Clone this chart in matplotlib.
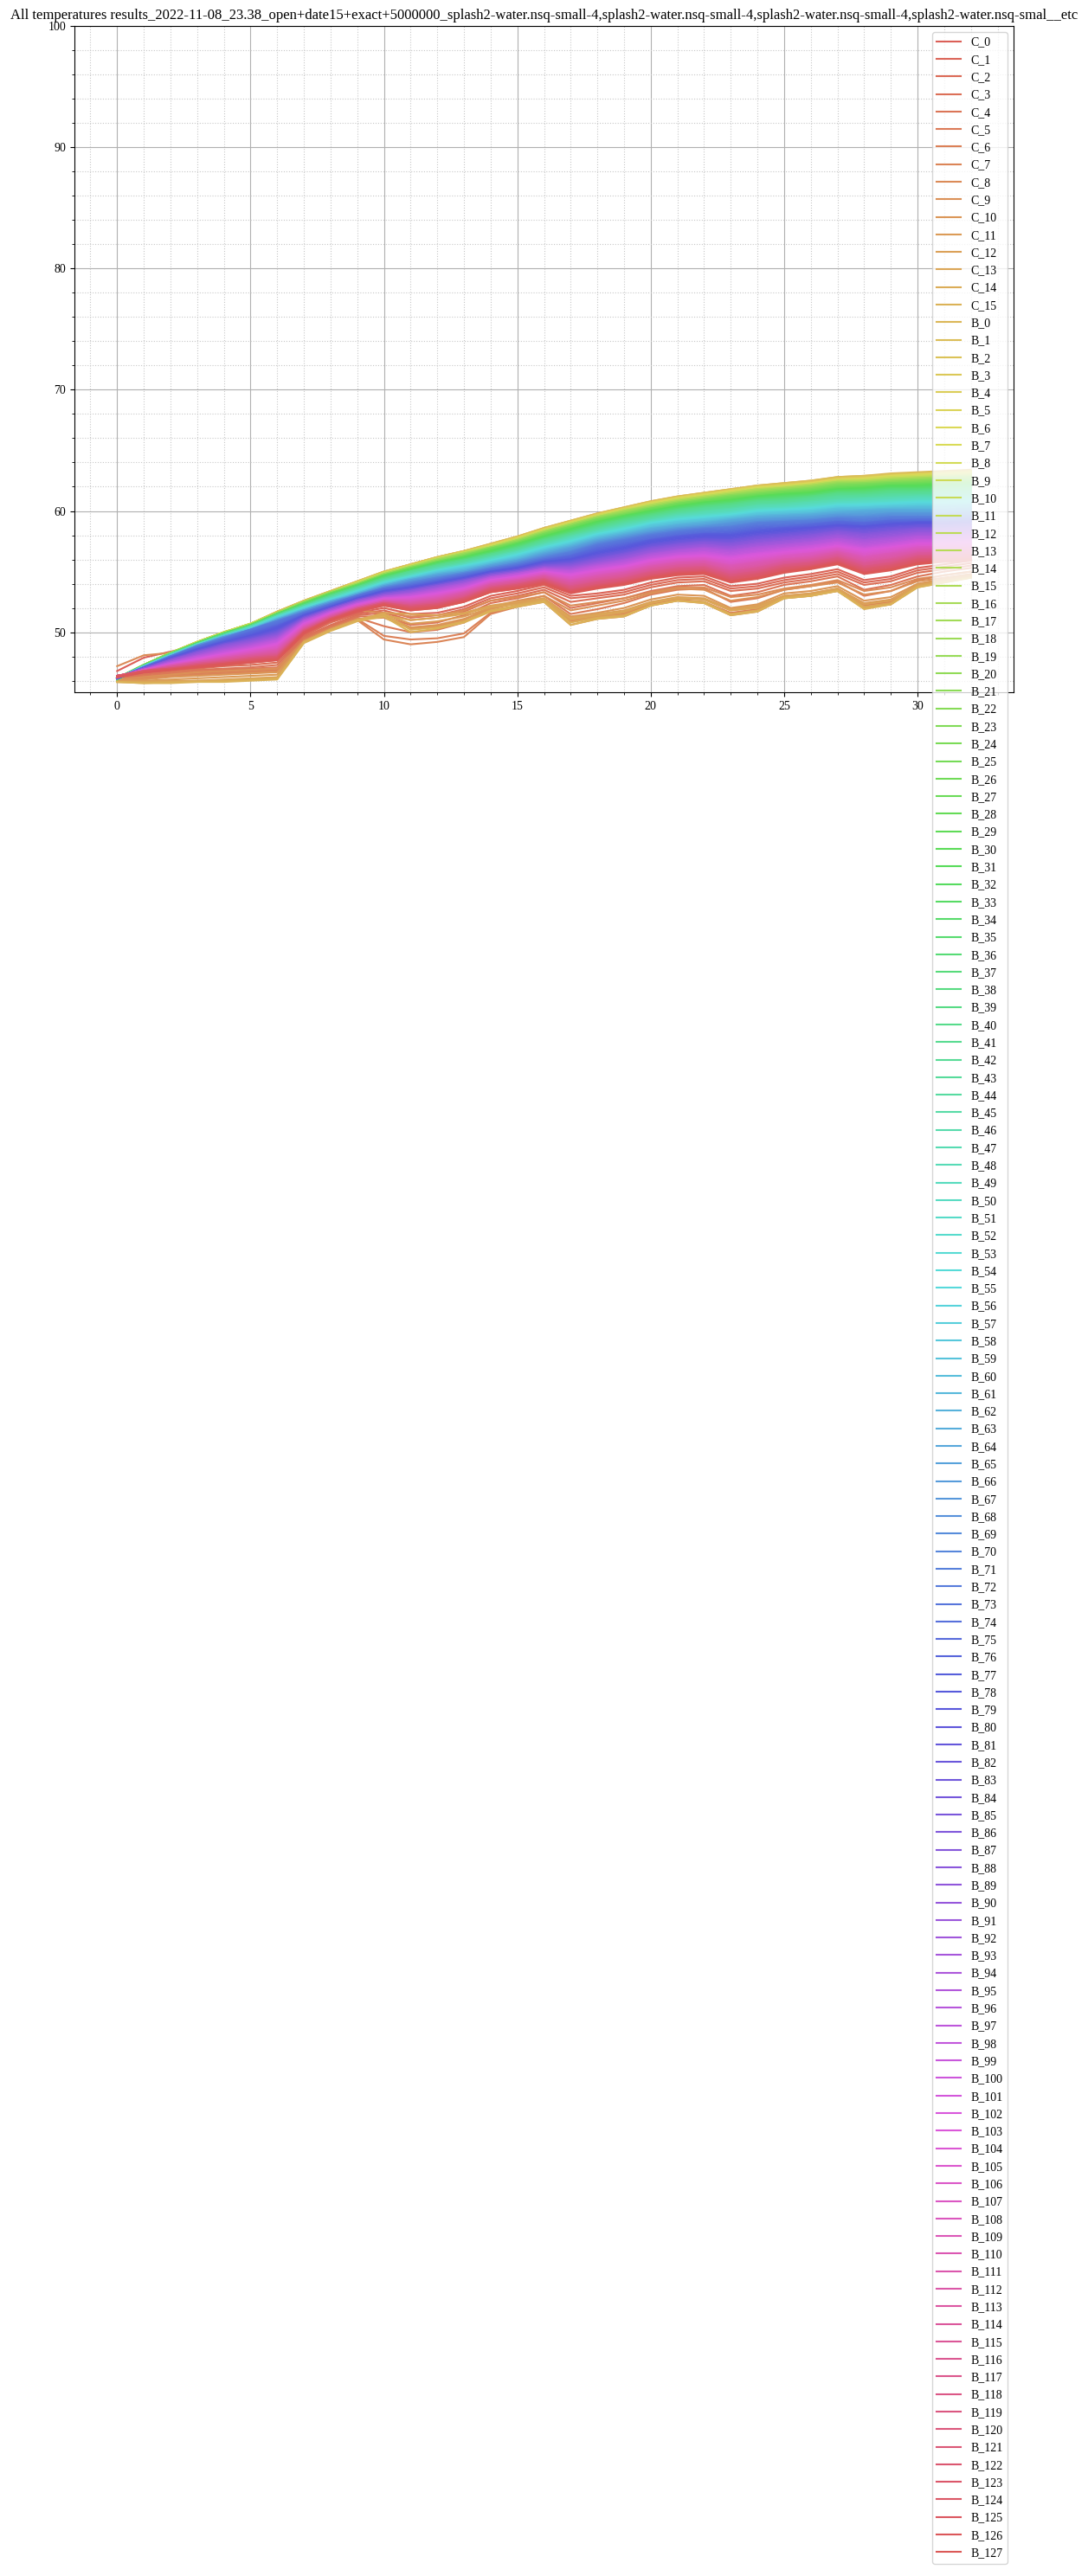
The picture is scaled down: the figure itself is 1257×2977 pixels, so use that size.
import matplotlib
matplotlib.use('Agg')
import matplotlib.pyplot as plt
import seaborn as sns

plt.rcParams['font.family'] = ['Liberation Serif', 'DejaVu Serif']

titulo = 'All temperatures results_2022-11-08_23.38_open+date15+exact+5000000_splash2-water.nsq-small-4,splash2-water.nsq-small-4,splash2-water.nsq-small-4,splash2-water.nsq-smal__etc'

passos = list(range(33))

# temperaturas dos cores (C_0..C_15)
c_temps = [
    [46.8,47.9,48.4,48.9,49.2,49.4,50.5,51.3,52.0,52.6,52.9,52.6,52.8,53.3,54.0,54.4,54.9,54.0,54.3,54.6,55.1,55.5,55.6,54.9,55.1,55.6,55.9,56.3,55.4,55.7,56.4,56.7,57.0],
    [46.4,46.9,47.1,47.3,47.5,47.7,47.9,49.8,50.9,51.6,52.0,51.5,51.6,52.1,53.0,53.4,53.9,53.0,53.2,53.5,54.1,54.5,54.6,53.8,54.0,54.5,54.8,55.2,54.3,54.6,55.3,55.6,55.9],
    [46.3,46.7,46.9,47.1,47.3,47.5,47.7,49.7,50.8,51.5,51.8,51.2,51.4,51.9,52.8,53.2,53.7,52.8,53.0,53.3,53.9,54.3,54.4,53.6,53.8,54.3,54.6,55.0,54.1,54.4,55.1,55.4,55.7],
    [46.2,46.6,46.8,47.0,47.2,47.3,47.5,49.6,50.6,51.4,51.6,51.0,51.2,51.7,52.6,53.0,53.5,52.5,52.8,53.1,53.7,54.1,54.2,53.4,53.6,54.1,54.4,54.8,53.9,54.2,54.9,55.2,55.5],
    [46.1,46.5,46.7,46.9,47.0,47.1,47.3,49.5,50.5,51.3,51.3,50.6,50.8,51.4,52.4,52.8,53.3,52.0,52.4,52.8,53.4,53.8,53.9,53.0,53.3,53.9,54.2,54.6,53.5,53.9,54.6,55.0,55.3],
    [46.1,46.4,46.6,46.8,46.9,47.0,47.1,49.4,50.4,51.2,50.5,50.0,50.2,50.8,52.0,52.5,53.0,51.5,51.9,52.4,53.1,53.5,53.6,52.5,52.8,53.5,53.8,54.2,53.0,53.4,54.3,54.7,55.0],
    [46.0,46.3,46.5,46.6,46.7,46.8,46.9,49.3,50.3,51.1,49.7,49.4,49.5,49.9,51.6,52.2,52.6,50.9,51.2,51.5,52.3,52.7,52.5,51.6,51.9,52.9,53.1,53.5,52.2,52.5,53.9,54.3,54.7],
    [46.0,46.2,46.4,46.5,46.6,46.7,46.8,49.2,50.2,51.0,49.4,49.0,49.2,49.6,51.5,52.1,52.5,50.6,51.1,51.3,52.2,52.6,52.4,51.4,51.7,52.8,53.0,53.4,52.0,52.3,53.8,54.2,54.6],
    [47.2,48.1,48.3,48.5,48.8,49.1,49.9,50.8,51.4,51.8,51.6,51.3,51.4,51.8,52.6,52.9,53.3,52.2,52.5,52.8,53.3,53.7,53.7,52.9,53.1,53.6,53.9,54.3,53.4,53.7,54.4,54.7,55.0],
    [46.1,46.3,46.5,46.7,46.8,46.9,47.0,49.3,50.3,51.1,51.2,50.3,50.5,51.0,52.1,52.6,53.0,51.8,52.2,52.6,53.2,53.6,53.5,52.6,52.9,53.5,53.8,54.1,53.1,53.4,54.2,54.5,54.8],
    [46.0,46.1,46.3,46.4,46.5,46.6,46.7,49.2,50.2,51.0,51.4,50.4,50.6,51.1,51.9,52.4,52.8,51.3,51.6,52.0,52.7,53.1,53.0,52.0,52.3,53.2,53.4,53.8,52.6,52.9,54.0,54.4,54.7],
    [46.0,46.0,46.1,46.2,46.3,46.4,46.5,49.2,50.2,51.0,51.5,50.7,50.9,51.3,52.0,52.4,52.7,51.0,51.3,51.6,52.4,52.8,52.7,51.8,52.1,53.0,53.2,53.6,52.4,52.7,53.9,54.3,54.6],
    [45.9,45.9,46.0,46.0,46.1,46.2,46.3,49.2,50.2,51.0,51.6,51.5,51.4,51.6,52.2,52.5,52.8,51.2,51.5,51.8,52.5,52.9,52.8,51.9,52.2,53.0,53.2,53.6,52.3,52.6,53.9,54.3,54.6],
    [45.9,45.9,45.9,46.0,46.0,46.1,46.2,49.2,50.2,51.0,51.4,51.0,51.2,51.5,52.1,52.3,52.7,51.1,51.4,51.7,52.4,52.8,52.7,51.8,52.0,52.9,53.1,53.5,52.1,52.4,53.8,54.2,54.5],
    [45.9,45.8,45.9,45.9,46.0,46.1,46.2,49.2,50.2,51.0,51.5,50.2,50.4,50.9,51.8,52.2,52.6,50.8,51.2,51.4,52.2,52.6,52.5,51.5,51.8,52.8,53.0,53.4,52.0,52.3,53.7,54.1,54.5],
    [45.9,45.8,45.8,45.9,45.9,46.0,46.1,49.1,50.1,50.9,51.3,50.0,50.3,50.8,51.7,52.1,52.5,50.6,51.1,51.3,52.2,52.6,52.4,51.4,51.7,52.8,53.0,53.4,51.9,52.3,53.7,54.1,54.5],
]

# bancos B_0..B_15
b_amarelo = [
    [46.2,47.3,48.3,49.2,50.0,50.7,51.7,52.6,53.4,54.2,55.0,55.6,56.2,56.7,57.3,57.9,58.6,59.2,59.8,60.3,60.8,61.2,61.5,61.8,62.1,62.3,62.5,62.8,62.9,63.1,63.2,63.3,63.4],
    [46.2,47.3,48.3,49.2,50.0,50.7,51.7,52.6,53.4,54.2,55.0,55.6,56.2,56.7,57.3,57.9,58.6,59.2,59.8,60.3,60.8,61.2,61.5,61.8,62.1,62.3,62.5,62.8,62.9,63.0,63.1,63.2,63.3],
    [46.2,47.3,48.3,49.2,50.0,50.7,51.7,52.6,53.4,54.2,55.0,55.6,56.2,56.7,57.2,57.8,58.5,59.1,59.7,60.2,60.7,61.1,61.4,61.7,62.0,62.2,62.4,62.7,62.8,63.0,63.1,63.2,63.3],
    [46.2,47.3,48.3,49.2,50.0,50.7,51.6,52.5,53.3,54.1,54.9,55.5,56.1,56.6,57.2,57.8,58.5,59.1,59.7,60.2,60.7,61.1,61.4,61.7,62.0,62.2,62.4,62.7,62.8,63.0,63.1,63.2,63.3],
    [46.2,47.3,48.3,49.2,50.0,50.7,51.6,52.5,53.3,54.1,54.9,55.5,56.1,56.6,57.2,57.8,58.5,59.1,59.7,60.2,60.7,61.1,61.4,61.7,62.0,62.1,62.3,62.6,62.7,62.9,63.0,63.1,63.2],
    [46.2,47.3,48.3,49.1,49.9,50.6,51.6,52.5,53.3,54.1,54.9,55.5,56.1,56.6,57.2,57.8,58.5,59.1,59.7,60.2,60.7,61.1,61.4,61.7,62.0,62.1,62.3,62.6,62.7,62.9,63.0,63.1,63.2],
    [46.2,47.3,48.3,49.2,50.0,50.7,51.6,52.5,53.3,54.1,54.9,55.5,56.1,56.6,57.1,57.7,58.4,59.0,59.6,60.1,60.6,61.0,61.3,61.6,61.9,62.1,62.3,62.6,62.7,62.9,63.0,63.1,63.2],
    [46.1,47.2,48.3,49.2,50.0,50.7,51.6,52.5,53.3,54.1,54.9,55.5,56.1,56.6,57.1,57.7,58.4,59.0,59.6,60.1,60.6,61.0,61.3,61.6,61.9,62.0,62.2,62.5,62.6,62.8,62.9,63.0,63.2],
    [46.2,47.3,48.3,49.2,50.0,50.7,51.6,52.5,53.3,54.1,54.9,55.5,56.1,56.6,57.1,57.7,58.4,59.0,59.6,60.1,60.6,61.0,61.3,61.6,61.9,62.0,62.2,62.5,62.6,62.8,62.9,63.0,63.1],
    [46.2,47.3,48.3,49.2,50.0,50.7,51.6,52.5,53.3,54.1,54.9,55.5,56.1,56.6,57.1,57.7,58.4,59.0,59.6,60.1,60.5,60.9,61.2,61.5,61.8,62.0,62.2,62.5,62.6,62.8,62.9,63.0,63.1],
    [46.2,47.3,48.3,49.2,50.0,50.7,51.6,52.5,53.3,54.1,54.9,55.5,56.1,56.6,57.1,57.7,58.4,59.0,59.6,60.1,60.5,60.9,61.2,61.5,61.8,62.0,62.2,62.5,62.5,62.7,62.8,62.9,63.0],
    [46.2,47.3,48.3,49.2,50.0,50.7,51.6,52.5,53.3,54.0,54.8,55.4,56.0,56.5,57.0,57.6,58.3,58.9,59.5,60.0,60.5,60.9,61.2,61.5,61.8,62.0,62.2,62.5,62.5,62.7,62.8,62.9,63.0],
    [46.2,47.3,48.3,49.1,49.9,50.6,51.6,52.5,53.3,54.0,54.8,55.4,56.0,56.5,57.0,57.6,58.3,58.9,59.5,60.0,60.5,60.9,61.2,61.5,61.8,61.9,62.1,62.4,62.5,62.7,62.8,62.9,63.0],
    [46.2,47.3,48.3,49.1,49.9,50.6,51.6,52.5,53.3,54.0,54.8,55.4,56.0,56.5,57.0,57.6,58.3,58.9,59.5,60.0,60.5,60.9,61.2,61.5,61.8,61.9,62.1,62.4,62.5,62.6,62.7,62.8,62.9],
    [46.1,47.2,48.3,49.1,49.9,50.6,51.6,52.5,53.3,54.0,54.8,55.4,56.0,56.5,57.0,57.6,58.3,58.9,59.5,60.0,60.4,60.8,61.1,61.4,61.7,61.9,62.1,62.4,62.4,62.6,62.7,62.8,62.9],
    [46.2,47.2,48.2,49.0,49.9,50.6,51.6,52.5,53.3,54.0,54.8,55.4,55.9,56.4,56.9,57.5,58.3,58.9,59.5,60.0,60.4,60.8,61.1,61.4,61.7,61.9,62.1,62.4,62.4,62.6,62.7,62.8,62.9],
]

# B_16..B_40
b_verde = [
    [46.2,47.3,48.3,49.1,49.9,50.6,51.6,52.5,53.3,54.0,54.8,55.4,56.0,56.5,57.0,57.6,58.3,58.9,59.5,60.0,60.4,60.8,61.1,61.4,61.7,61.9,62.1,62.4,62.4,62.6,62.7,62.8,62.9],
    [46.2,47.3,48.3,49.1,49.9,50.6,51.6,52.5,53.3,54.0,54.8,55.4,56.0,56.5,57.0,57.6,58.3,58.9,59.5,59.9,60.4,60.8,61.1,61.4,61.6,61.8,62.0,62.3,62.4,62.5,62.6,62.7,62.8],
    [46.2,47.3,48.3,49.1,49.9,50.6,51.6,52.5,53.3,54.0,54.8,55.4,55.9,56.4,57.0,57.5,58.2,58.8,59.4,59.9,60.3,60.7,61.0,61.3,61.6,61.8,62.0,62.3,62.3,62.5,62.6,62.7,62.8],
    [46.2,47.3,48.3,49.1,49.9,50.6,51.5,52.4,53.2,53.9,54.7,55.3,55.9,56.4,57.0,57.5,58.2,58.8,59.4,59.9,60.3,60.7,61.0,61.3,61.6,61.8,62.0,62.3,62.3,62.5,62.6,62.7,62.8],
    [46.2,47.3,48.2,49.1,49.9,50.6,51.5,52.4,53.2,53.9,54.7,55.3,55.9,56.4,56.9,57.5,58.2,58.8,59.4,59.8,60.3,60.7,61.0,61.3,61.5,61.7,61.9,62.2,62.3,62.4,62.5,62.6,62.7],
    [46.1,47.2,48.2,49.1,49.9,50.6,51.5,52.4,53.2,53.9,54.7,55.3,55.9,56.4,56.9,57.5,58.2,58.8,59.4,59.8,60.3,60.7,61.0,61.3,61.5,61.7,61.9,62.2,62.3,62.4,62.5,62.6,62.7],
    [46.2,47.3,48.2,49.1,49.9,50.6,51.5,52.4,53.2,53.9,54.7,55.3,55.8,56.3,56.9,57.4,58.1,58.7,59.3,59.8,60.2,60.6,60.9,61.2,61.5,61.7,61.9,62.2,62.2,62.4,62.5,62.6,62.7],
    [46.2,47.3,48.2,49.0,49.8,50.6,51.5,52.4,53.2,53.9,54.7,55.3,55.8,56.3,56.9,57.4,58.1,58.7,59.3,59.7,60.2,60.6,60.9,61.2,61.4,61.6,61.8,62.1,62.2,62.3,62.4,62.5,62.6],
    [46.2,47.3,48.2,49.1,49.9,50.6,51.5,52.4,53.2,53.9,54.7,55.3,55.8,56.3,56.9,57.4,58.1,58.7,59.3,59.7,60.2,60.6,60.9,61.2,61.4,61.6,61.8,62.1,62.2,62.3,62.4,62.5,62.6],
    [46.2,47.3,48.2,49.1,49.9,50.6,51.5,52.4,53.2,53.9,54.7,55.3,55.8,56.3,56.9,57.4,58.1,58.7,59.3,59.7,60.2,60.6,60.9,61.1,61.4,61.6,61.7,62.0,62.1,62.3,62.3,62.4,62.5],
    [46.2,47.3,48.2,49.1,49.9,50.6,51.5,52.4,53.2,53.9,54.7,55.2,55.8,56.2,56.8,57.3,58.0,58.6,59.2,59.6,60.1,60.5,60.8,61.1,61.3,61.5,61.7,62.0,62.1,62.2,62.3,62.4,62.5],
    [46.2,47.3,48.2,49.1,49.9,50.6,51.5,52.4,53.2,53.9,54.7,55.2,55.8,56.2,56.8,57.3,58.0,58.6,59.2,59.6,60.1,60.5,60.8,61.0,61.3,61.5,61.6,61.9,62.0,62.2,62.2,62.3,62.4],
    [46.2,47.2,48.2,49.1,49.9,50.5,51.5,52.3,53.1,53.8,54.6,55.2,55.7,56.2,56.7,57.3,57.9,58.5,59.1,59.6,60.0,60.4,60.7,61.0,61.2,61.4,61.6,61.9,62.0,62.1,62.2,62.3,62.4],
    [46.2,47.2,48.2,49.1,49.9,50.5,51.5,52.3,53.1,53.8,54.6,55.2,55.7,56.2,56.7,57.3,57.9,58.5,59.1,59.6,60.0,60.4,60.7,60.9,61.2,61.4,61.5,61.8,61.9,62.1,62.1,62.2,62.3],
    [46.2,47.2,48.2,49.1,49.9,50.5,51.5,52.3,53.1,53.8,54.6,55.1,55.7,56.1,56.7,57.2,57.9,58.5,59.1,59.5,60.0,60.4,60.7,60.9,61.2,61.4,61.5,61.8,61.9,62.1,62.1,62.2,62.3],
    [46.1,47.2,48.2,49.1,49.9,50.5,51.5,52.3,53.1,53.8,54.6,55.1,55.7,56.1,56.6,57.2,57.8,58.4,59.0,59.5,59.9,60.3,60.6,60.8,61.1,61.3,61.4,61.7,61.8,62.0,62.0,62.1,62.2],
    [46.2,47.2,48.2,49.1,49.9,50.5,51.5,52.3,53.1,53.8,54.6,55.1,55.7,56.1,56.6,57.2,57.8,58.4,59.0,59.5,59.9,60.3,60.6,60.8,61.1,61.3,61.4,61.7,61.8,62.0,62.0,62.1,62.2],
    [46.2,47.2,48.2,49.1,49.9,50.5,51.5,52.3,53.1,53.8,54.6,55.1,55.7,56.1,56.6,57.2,57.8,58.4,59.0,59.5,59.9,60.3,60.6,60.8,61.1,61.2,61.4,61.7,61.7,61.9,61.9,62.0,62.1],
    [46.2,47.2,48.2,49.1,49.9,50.5,51.5,52.3,53.1,53.8,54.5,55.1,55.6,56.0,56.5,57.1,57.7,58.3,58.9,59.4,59.8,60.2,60.5,60.7,61.0,61.2,61.3,61.6,61.7,61.9,61.9,62.0,62.1],
    [46.2,47.2,48.2,49.1,49.9,50.5,51.5,52.3,53.1,53.8,54.5,55.1,55.6,56.0,56.5,57.1,57.7,58.3,58.9,59.4,59.8,60.2,60.5,60.7,61.0,61.1,61.3,61.6,61.6,61.8,61.8,61.9,62.0],
    [46.2,47.2,48.2,49.0,49.8,50.5,51.4,52.2,53.0,53.7,54.5,55.0,55.6,56.0,56.5,57.0,57.7,58.2,58.8,59.3,59.7,60.1,60.4,60.6,60.9,61.1,61.2,61.5,61.6,61.8,61.8,61.9,62.0],
    [46.2,47.2,48.2,49.0,49.8,50.5,51.4,52.2,53.0,53.7,54.5,55.0,55.6,56.0,56.5,57.0,57.7,58.2,58.8,59.3,59.7,60.1,60.4,60.6,60.9,61.0,61.2,61.5,61.5,61.7,61.7,61.8,61.9],
    [46.2,47.2,48.2,49.0,49.8,50.5,51.4,52.2,53.0,53.7,54.4,55.0,55.5,55.9,56.4,57.0,57.6,58.2,58.8,59.3,59.7,60.1,60.4,60.6,60.9,61.0,61.2,61.5,61.5,61.7,61.7,61.8,61.9],
    [46.2,47.1,48.2,49.0,49.8,50.5,51.4,52.2,53.0,53.7,54.4,55.0,55.5,55.9,56.4,56.9,57.6,58.1,58.7,59.2,59.6,60.0,60.3,60.5,60.8,60.9,61.1,61.4,61.4,61.6,61.6,61.7,61.8],
    [46.2,47.2,48.2,49.0,49.8,50.5,51.4,52.2,53.0,53.7,54.4,55.0,55.5,55.9,56.4,56.9,57.6,58.1,58.7,59.2,59.6,60.0,60.3,60.5,60.8,60.9,61.1,61.4,61.4,61.6,61.6,61.7,61.8],
]

# B_41..B_60
b_ciano = [
    [46.2,47.2,48.2,49.0,49.8,50.5,51.4,52.2,53.0,53.7,54.4,55.0,55.5,55.9,56.4,56.9,57.5,58.1,58.6,59.1,59.5,59.9,60.2,60.4,60.7,60.8,61.0,61.3,61.3,61.5,61.5,61.6,61.7],
    [46.2,47.2,48.2,49.0,49.8,50.5,51.4,52.2,52.9,53.6,54.3,54.9,55.4,55.8,56.3,56.8,57.5,58.0,58.6,59.1,59.5,59.9,60.2,60.4,60.7,60.8,61.0,61.2,61.3,61.4,61.5,61.5,61.6],
    [46.2,47.2,48.2,49.0,49.8,50.5,51.4,52.2,52.9,53.6,54.3,54.9,55.4,55.8,56.3,56.8,57.4,58.0,58.5,59.0,59.4,59.8,60.1,60.3,60.6,60.7,60.9,61.2,61.2,61.4,61.4,61.5,61.6],
    [46.2,47.2,48.1,49.0,49.7,50.4,51.3,52.1,52.9,53.6,54.3,54.8,55.3,55.7,56.2,56.7,57.4,57.9,58.5,59.0,59.4,59.8,60.0,60.2,60.5,60.6,60.8,61.1,61.1,61.3,61.3,61.4,61.5],
    [46.2,47.2,48.1,49.0,49.7,50.4,51.3,52.1,52.9,53.6,54.3,54.8,55.3,55.7,56.2,56.7,57.3,57.9,58.4,58.9,59.3,59.7,60.0,60.2,60.5,60.6,60.8,61.0,61.1,61.2,61.3,61.3,61.4],
    [46.2,47.2,48.1,49.0,49.7,50.4,51.3,52.1,52.8,53.5,54.2,54.8,55.3,55.7,56.2,56.7,57.3,57.9,58.4,58.9,59.3,59.7,59.9,60.1,60.4,60.5,60.7,60.9,61.0,61.1,61.2,61.2,61.3],
    [46.2,47.2,48.1,49.0,49.7,50.4,51.3,52.1,52.8,53.5,54.2,54.7,55.2,55.6,56.1,56.6,57.2,57.8,58.3,58.8,59.2,59.6,59.9,60.1,60.4,60.5,60.7,60.9,61.0,61.1,61.2,61.2,61.3],
    [46.2,47.2,48.1,49.0,49.7,50.4,51.3,52.1,52.8,53.5,54.2,54.7,55.2,55.6,56.1,56.6,57.2,57.8,58.3,58.8,59.2,59.6,59.8,60.0,60.3,60.4,60.6,60.8,60.9,61.0,61.1,61.1,61.2],
    [46.2,47.2,48.1,49.0,49.7,50.4,51.3,52.1,52.8,53.5,54.2,54.7,55.2,55.6,56.1,56.6,57.2,57.7,58.3,58.7,59.2,59.5,59.7,59.9,60.2,60.3,60.5,60.7,60.8,60.9,61.0,61.0,61.1],
    [46.2,47.2,48.1,49.0,49.7,50.4,51.3,52.0,52.7,53.4,54.1,54.6,55.1,55.5,56.0,56.5,57.1,57.7,58.2,58.7,59.1,59.5,59.7,59.9,60.2,60.3,60.5,60.7,60.8,60.9,61.0,61.0,61.1],
    [46.2,47.2,48.1,49.0,49.7,50.4,51.3,52.0,52.7,53.4,54.1,54.6,55.1,55.5,56.0,56.5,57.1,57.6,58.2,58.6,59.1,59.4,59.6,59.8,60.1,60.2,60.4,60.6,60.7,60.8,60.9,60.9,61.0],
    [46.2,47.2,48.1,48.9,49.7,50.3,51.2,52.0,52.7,53.4,54.1,54.6,55.1,55.5,55.9,56.4,57.0,57.6,58.1,58.6,59.0,59.4,59.6,59.8,60.1,60.2,60.3,60.6,60.6,60.7,60.8,60.8,60.9],
    [46.2,47.2,48.1,48.9,49.7,50.3,51.2,52.0,52.7,53.4,54.1,54.6,55.1,55.5,55.9,56.4,57.0,57.5,58.1,58.5,59.0,59.3,59.5,59.7,60.0,60.1,60.3,60.5,60.6,60.7,60.8,60.8,60.9],
    [46.2,47.2,48.1,48.9,49.7,50.3,51.2,51.9,52.6,53.3,54.0,54.5,55.0,55.4,55.9,56.4,57.0,57.5,58.1,58.5,59.0,59.3,59.5,59.7,60.0,60.1,60.2,60.5,60.5,60.6,60.7,60.7,60.8],
    [46.2,47.2,48.1,48.9,49.7,50.3,51.2,51.9,52.6,53.3,54.0,54.5,55.0,55.4,55.8,56.3,56.9,57.4,58.0,58.4,58.9,59.2,59.4,59.6,59.9,60.0,60.2,60.4,60.5,60.6,60.7,60.7,60.8],
    [46.2,47.2,48.1,48.9,49.7,50.3,51.2,51.9,52.6,53.3,54.0,54.5,55.0,55.4,55.8,56.3,56.9,57.4,58.0,58.4,58.9,59.2,59.4,59.6,59.9,60.0,60.1,60.4,60.4,60.5,60.6,60.6,60.7],
    [46.2,47.2,48.1,48.9,49.7,50.3,51.2,51.9,52.6,53.3,54.0,54.5,55.0,55.3,55.8,56.2,56.8,57.3,57.9,58.3,58.8,59.1,59.3,59.5,59.8,59.9,60.0,60.3,60.3,60.4,60.5,60.5,60.6],
    [46.2,47.2,48.1,48.9,49.7,50.3,51.1,51.9,52.6,53.2,53.9,54.4,54.9,55.3,55.7,56.2,56.8,57.3,57.9,58.3,58.8,59.1,59.3,59.5,59.8,59.9,60.0,60.2,60.3,60.4,60.4,60.4,60.5],
    [46.2,47.2,48.1,48.9,49.7,50.3,51.1,51.9,52.6,53.2,53.9,54.4,54.9,55.2,55.7,56.1,56.7,57.2,57.8,58.2,58.7,59.0,59.2,59.4,59.7,59.8,59.9,60.2,60.2,60.3,60.4,60.4,60.5],
    [46.2,47.1,48.0,48.9,49.6,50.2,51.1,51.8,52.5,53.2,53.9,54.4,54.8,55.2,55.6,56.1,56.7,57.2,57.8,58.2,58.6,58.9,59.1,59.4,59.6,59.7,59.8,60.1,60.1,60.2,60.3,60.3,60.4],
]

# B_61..B_80
b_azul = [
    [46.2,47.1,48.0,48.9,49.6,50.2,51.1,51.8,52.5,53.2,53.9,54.4,54.8,55.1,55.6,56.0,56.6,57.1,57.7,58.1,58.6,58.9,59.1,59.3,59.6,59.7,59.8,60.0,60.1,60.2,60.2,60.2,60.3],
    [46.2,47.1,48.0,48.9,49.6,50.2,51.0,51.8,52.5,53.1,53.8,54.3,54.8,55.1,55.6,56.0,56.6,57.1,57.7,58.1,58.5,58.8,59.0,59.3,59.5,59.6,59.7,59.9,60.0,60.1,60.1,60.1,60.2],
    [46.2,47.1,48.0,48.9,49.6,50.2,51.0,51.8,52.5,53.1,53.8,54.3,54.7,55.0,55.5,55.9,56.5,57.0,57.6,58.0,58.5,58.8,59.0,59.2,59.5,59.6,59.7,59.9,60.0,60.1,60.1,60.1,60.2],
    [46.2,47.1,48.0,48.9,49.6,50.2,51.0,51.8,52.5,53.1,53.8,54.3,54.7,55.0,55.5,55.9,56.5,57.0,57.6,58.0,58.4,58.7,58.9,59.2,59.4,59.5,59.6,59.8,59.9,60.0,60.0,60.0,60.1],
    [46.2,47.1,48.0,48.9,49.6,50.2,51.0,51.8,52.5,53.1,53.8,54.3,54.7,55.0,55.5,55.9,56.4,56.9,57.5,57.9,58.3,58.6,58.8,59.1,59.3,59.4,59.5,59.7,59.8,59.9,59.9,59.9,60.0],
    [46.2,47.1,48.0,48.9,49.6,50.2,51.0,51.7,52.4,53.1,53.7,54.2,54.6,54.9,55.4,55.8,56.4,56.9,57.5,57.9,58.3,58.6,58.8,59.0,59.3,59.4,59.5,59.7,59.7,59.8,59.8,59.8,59.9],
    [46.2,47.1,48.0,48.9,49.6,50.2,51.0,51.7,52.4,53.1,53.7,54.2,54.6,54.9,55.4,55.8,56.3,56.8,57.4,57.8,58.2,58.5,58.7,59.0,59.2,59.3,59.4,59.6,59.6,59.8,59.8,59.8,59.9],
    [46.2,47.1,48.0,48.8,49.5,50.2,50.9,51.7,52.4,53.0,53.7,54.1,54.5,54.9,55.3,55.7,56.3,56.7,57.4,57.8,58.2,58.5,58.7,58.9,59.1,59.2,59.3,59.5,59.5,59.7,59.7,59.7,59.8],
    [46.2,47.1,48.0,48.8,49.5,50.2,50.9,51.7,52.4,53.0,53.7,54.1,54.5,54.9,55.3,55.7,56.2,56.7,57.3,57.7,58.1,58.4,58.6,58.8,59.1,59.2,59.3,59.5,59.5,59.6,59.6,59.6,59.7],
    [46.2,47.1,48.0,48.8,49.5,50.2,50.9,51.6,52.3,53.0,53.6,54.1,54.5,54.8,55.3,55.7,56.2,56.6,57.3,57.7,58.1,58.4,58.6,58.7,59.0,59.1,59.2,59.4,59.4,59.5,59.5,59.5,59.6],
    [46.2,47.1,48.0,48.8,49.5,50.2,50.9,51.6,52.3,53.0,53.6,54.0,54.4,54.8,55.2,55.6,56.1,56.6,57.2,57.6,58.0,58.3,58.5,58.7,59.0,59.1,59.2,59.4,59.3,59.5,59.5,59.5,59.6],
    [46.2,47.1,48.0,48.8,49.5,50.2,50.9,51.6,52.3,53.0,53.6,54.0,54.4,54.8,55.2,55.6,56.1,56.5,57.2,57.6,58.0,58.3,58.5,58.6,58.9,59.0,59.1,59.3,59.2,59.4,59.4,59.4,59.5],
    [46.2,47.1,48.0,48.8,49.4,50.1,50.8,51.6,52.3,53.0,53.6,53.9,54.3,54.7,55.2,55.5,56.0,56.4,57.1,57.5,57.9,58.2,58.4,58.5,58.8,58.9,59.0,59.2,59.1,59.3,59.3,59.3,59.4],
    [46.2,47.1,47.9,48.7,49.4,50.0,50.7,51.5,52.2,52.9,53.5,53.9,54.3,54.7,55.1,55.5,56.0,56.3,57.0,57.4,57.8,58.1,58.3,58.4,58.7,58.8,58.9,59.1,59.0,59.2,59.3,59.3,59.4],
    [46.2,47.1,47.9,48.7,49.3,50.0,50.6,51.5,52.2,52.9,53.5,53.8,54.2,54.6,55.1,55.4,55.9,56.3,56.9,57.3,57.7,58.0,58.2,58.3,58.6,58.7,58.9,59.1,59.0,59.2,59.2,59.2,59.3],
    [46.2,47.0,47.9,48.6,49.3,49.9,50.5,51.4,52.1,52.8,53.4,53.8,54.2,54.6,55.0,55.4,55.9,56.2,56.8,57.2,57.6,57.9,58.1,58.2,58.5,58.6,58.8,59.0,58.9,59.1,59.1,59.1,59.2],
    [46.2,47.0,47.9,48.6,49.2,49.8,50.5,51.4,52.1,52.8,53.4,53.7,54.1,54.5,55.0,55.3,55.8,56.1,56.7,57.1,57.6,57.9,58.1,58.1,58.4,58.6,58.7,58.9,58.8,59.0,59.1,59.1,59.2],
    [46.2,47.0,47.8,48.6,49.2,49.7,50.4,51.4,52.1,52.8,53.4,53.7,54.1,54.5,55.0,55.3,55.8,56.0,56.6,57.0,57.5,57.8,58.0,58.0,58.3,58.5,58.6,58.8,58.7,58.9,59.0,59.0,59.1],
    [46.2,47.0,47.8,48.5,49.1,49.7,50.3,51.3,52.0,52.7,53.3,53.6,54.0,54.4,54.9,55.2,55.7,56.0,56.5,56.9,57.4,57.7,57.9,57.9,58.2,58.4,58.6,58.8,58.7,58.9,59.0,59.0,59.1],
    [46.2,47.0,47.8,48.5,49.1,49.6,50.2,51.3,52.0,52.7,53.3,53.6,54.0,54.4,54.9,55.2,55.7,55.9,56.4,56.8,57.3,57.6,57.8,57.8,58.1,58.3,58.5,58.7,58.6,58.8,58.9,58.9,59.0],
]

# B_81..B_100
b_roxo = [
    [46.2,47.0,47.8,48.5,49.1,49.6,50.1,51.3,52.0,52.7,53.3,53.6,54.0,54.4,54.9,55.2,55.7,55.8,56.3,56.7,57.2,57.5,57.7,57.7,58.0,58.2,58.4,58.6,58.5,58.7,58.8,58.8,58.9],
    [46.2,47.0,47.8,48.4,49.0,49.5,50.1,51.2,52.0,52.7,53.2,53.5,53.9,54.3,54.8,55.1,55.6,55.8,56.3,56.7,57.2,57.5,57.7,57.6,57.9,58.1,58.3,58.6,58.4,58.6,58.8,58.8,58.9],
    [46.2,47.0,47.8,48.4,49.0,49.5,50.0,51.2,52.0,52.7,53.2,53.5,53.9,54.3,54.8,55.1,55.6,55.7,56.2,56.6,57.1,57.4,57.6,57.6,57.9,58.1,58.3,58.5,58.4,58.6,58.7,58.7,58.8],
    [46.3,47.0,47.7,48.4,49.0,49.4,50.0,51.2,51.9,52.6,53.2,53.5,53.9,54.3,54.8,55.1,55.5,55.7,56.1,56.5,57.0,57.3,57.5,57.5,57.8,58.0,58.2,58.4,58.3,58.5,58.6,58.6,58.7],
    [46.3,47.0,47.7,48.4,49.0,49.4,49.9,51.2,51.9,52.6,53.2,53.5,53.9,54.3,54.8,55.1,55.5,55.6,56.1,56.5,57.0,57.3,57.5,57.4,57.7,57.9,58.1,58.4,58.2,58.4,58.6,58.6,58.7],
    [46.3,47.0,47.7,48.3,48.9,49.4,49.9,51.1,51.9,52.6,53.1,53.4,53.8,54.2,54.7,55.0,55.5,55.6,56.0,56.4,56.9,57.2,57.4,57.3,57.6,57.8,58.0,58.3,58.1,58.3,58.5,58.5,58.6],
    [46.3,47.0,47.7,48.3,48.9,49.3,49.8,51.1,51.9,52.6,53.1,53.4,53.8,54.2,54.7,55.0,55.4,55.5,56.0,56.4,56.9,57.2,57.4,57.3,57.6,57.8,58.0,58.3,58.1,58.3,58.5,58.5,58.6],
    [46.3,47.0,47.7,48.3,48.9,49.3,49.8,51.1,51.9,52.6,53.1,53.4,53.8,54.2,54.7,55.0,55.4,55.5,55.9,56.3,56.8,57.1,57.3,57.2,57.5,57.7,57.9,58.2,58.0,58.2,58.4,58.4,58.5],
    [46.3,47.0,47.7,48.3,48.8,49.2,49.7,51.1,51.9,52.6,53.1,53.4,53.8,54.2,54.7,55.0,55.4,55.4,55.8,56.2,56.7,57.0,57.2,57.1,57.4,57.6,57.8,58.1,57.9,58.1,58.3,58.3,58.4],
    [46.3,47.0,47.6,48.2,48.8,49.2,49.7,51.0,51.8,52.5,53.0,53.3,53.7,54.1,54.6,54.9,55.3,55.4,55.8,56.2,56.7,57.0,57.2,57.0,57.3,57.5,57.7,58.0,57.8,58.0,58.2,58.2,58.3],
    [46.3,47.0,47.6,48.2,48.7,49.1,49.6,51.0,51.8,52.5,53.0,53.3,53.7,54.1,54.6,54.9,55.3,55.3,55.7,56.1,56.6,56.9,57.1,57.0,57.3,57.5,57.7,58.0,57.7,57.9,58.2,58.2,58.3],
    [46.3,46.9,47.6,48.1,48.7,49.1,49.6,51.0,51.8,52.5,53.0,53.2,53.6,54.0,54.6,54.9,55.3,55.3,55.7,56.0,56.5,56.8,57.0,56.9,57.2,57.4,57.6,57.9,57.6,57.8,58.1,58.1,58.2],
    [46.3,46.9,47.6,48.1,48.6,49.0,49.5,51.0,51.8,52.5,53.0,53.2,53.6,54.0,54.6,54.9,55.3,55.2,55.6,56.0,56.5,56.8,57.0,56.8,57.1,57.3,57.5,57.8,57.6,57.8,58.0,58.0,58.1],
    [46.3,46.9,47.5,48.1,48.6,49.0,49.5,50.9,51.7,52.4,52.9,53.2,53.6,54.0,54.5,54.8,55.2,55.2,55.6,55.9,56.4,56.7,56.9,56.7,57.0,57.2,57.4,57.7,57.5,57.7,57.9,57.9,58.0],
    [46.3,46.9,47.5,48.0,48.5,48.9,49.4,50.9,51.7,52.4,52.9,53.1,53.5,53.9,54.5,54.8,55.2,55.1,55.5,55.9,56.4,56.7,56.9,56.7,57.0,57.2,57.4,57.7,57.4,57.6,57.9,57.9,58.0],
    [46.3,46.9,47.5,48.0,48.5,48.9,49.4,50.9,51.7,52.4,52.9,53.1,53.5,53.9,54.5,54.8,55.2,55.1,55.5,55.8,56.3,56.6,56.8,56.6,56.9,57.1,57.3,57.6,57.3,57.5,57.8,57.8,57.9],
    [46.3,46.9,47.5,48.0,48.4,48.8,49.3,50.9,51.7,52.4,52.9,53.1,53.4,53.8,54.5,54.8,55.2,55.0,55.4,55.7,56.2,56.5,56.7,56.5,56.8,57.0,57.2,57.5,57.2,57.4,57.7,57.7,57.8],
    [46.3,46.9,47.4,47.9,48.4,48.8,49.3,50.8,51.6,52.3,52.8,53.0,53.4,53.8,54.4,54.7,55.1,55.0,55.4,55.7,56.2,56.5,56.6,56.4,56.7,56.9,57.1,57.4,57.1,57.3,57.6,57.6,57.7],
    [46.3,46.9,47.4,47.9,48.3,48.7,49.2,50.8,51.6,52.3,52.8,53.0,53.3,53.7,54.4,54.7,55.1,54.9,55.3,55.6,56.1,56.4,56.6,56.3,56.6,56.9,57.1,57.4,57.0,57.3,57.6,57.6,57.7],
    [46.3,46.9,47.4,47.8,48.3,48.7,49.1,50.7,51.6,52.3,52.8,52.9,53.3,53.7,54.3,54.6,55.0,54.8,55.2,55.5,56.0,56.3,56.5,56.2,56.5,56.8,57.0,57.3,56.9,57.2,57.5,57.5,57.6],
]

# B_101..B_127
b_rosa = [
    [46.3,46.9,47.4,47.8,48.2,48.6,49.1,50.7,51.6,52.3,52.8,52.9,53.2,53.6,54.3,54.6,55.0,54.8,55.2,55.5,56.0,56.3,56.4,56.2,56.5,56.7,56.9,57.2,56.9,57.1,57.4,57.4,57.5],
    [46.3,46.9,47.3,47.8,48.2,48.6,49.0,50.7,51.5,52.2,52.7,52.9,53.2,53.6,54.3,54.6,55.0,54.7,55.1,55.4,55.9,56.2,56.3,56.1,56.4,56.6,56.8,57.1,56.8,57.0,57.3,57.3,57.4],
    [46.3,46.9,47.3,47.7,48.1,48.5,49.0,50.6,51.5,52.2,52.7,52.8,53.1,53.5,54.2,54.5,54.9,54.7,55.1,55.4,55.9,56.2,56.3,56.0,56.3,56.6,56.8,57.1,56.7,57.0,57.3,57.3,57.4],
    [46.3,46.9,47.3,47.7,48.1,48.5,48.9,50.6,51.5,52.2,52.7,52.8,53.1,53.5,54.2,54.5,54.9,54.6,55.0,55.3,55.8,56.1,56.2,55.9,56.2,56.5,56.7,57.0,56.6,56.9,57.2,57.2,57.3],
    [46.3,46.9,47.3,47.7,48.1,48.4,48.8,50.6,51.5,52.2,52.7,52.7,53.0,53.5,54.2,54.5,54.9,54.5,54.9,55.2,55.7,56.0,56.1,55.8,56.1,56.4,56.6,56.9,56.5,56.8,57.1,57.1,57.2],
    [46.3,46.9,47.3,47.6,48.0,48.4,48.8,50.5,51.4,52.1,52.6,52.7,53.0,53.4,54.1,54.4,54.8,54.5,54.9,55.2,55.7,56.0,56.1,55.7,56.0,56.3,56.5,56.9,56.4,56.7,57.0,57.1,57.2],
    [46.3,46.9,47.3,47.6,48.0,48.3,48.7,50.5,51.4,52.1,52.6,52.6,52.9,53.4,54.1,54.4,54.8,54.4,54.8,55.1,55.6,55.9,56.0,55.6,55.9,56.3,56.5,56.8,56.3,56.6,57.0,57.0,57.1],
    [46.4,46.8,47.2,47.6,47.9,48.3,48.6,50.4,51.4,52.1,52.6,52.6,52.9,53.3,54.0,54.3,54.7,54.3,54.7,55.0,55.5,55.8,55.9,55.5,55.8,56.2,56.4,56.7,56.2,56.5,56.9,56.9,57.0],
    [46.4,46.8,47.2,47.6,47.9,48.2,48.6,50.4,51.4,52.1,52.6,52.5,52.8,53.3,54.0,54.3,54.7,54.3,54.7,55.0,55.5,55.8,55.9,55.5,55.8,56.1,56.3,56.7,56.2,56.5,56.8,56.9,57.0],
    [46.4,46.8,47.2,47.5,47.9,48.2,48.5,50.4,51.3,52.0,52.5,52.5,52.8,53.3,54.0,54.3,54.7,54.2,54.6,54.9,55.4,55.7,55.8,55.4,55.7,56.0,56.2,56.6,56.1,56.4,56.7,56.8,56.9],
    [46.4,46.8,47.2,47.5,47.8,48.1,48.5,50.3,51.3,52.0,52.5,52.4,52.7,53.2,53.9,54.2,54.6,54.2,54.6,54.9,55.4,55.7,55.8,55.3,55.6,56.0,56.2,56.6,56.0,56.3,56.7,56.8,56.9],
    [46.4,46.8,47.2,47.5,47.8,48.1,48.4,50.3,51.3,52.0,52.5,52.4,52.7,53.2,53.9,54.2,54.6,54.1,54.5,54.8,55.3,55.6,55.7,55.2,55.5,55.9,56.1,56.5,55.9,56.2,56.6,56.7,56.8],
    [46.4,46.8,47.2,47.5,47.8,48.1,48.3,50.3,51.3,52.0,52.5,52.4,52.6,53.1,53.9,54.2,54.6,54.0,54.4,54.7,55.2,55.5,55.6,55.1,55.4,55.8,56.0,56.4,55.8,56.1,56.5,56.6,56.7],
    [46.4,46.8,47.1,47.4,47.7,48.0,48.3,50.2,51.2,52.0,52.5,52.3,52.6,53.1,53.8,54.1,54.5,54.0,54.4,54.7,55.2,55.5,55.6,55.0,55.3,55.8,56.0,56.4,55.7,56.0,56.5,56.6,56.7],
    [46.4,46.8,47.1,47.4,47.7,48.0,48.2,50.2,51.2,52.0,52.5,52.3,52.5,53.0,53.8,54.1,54.5,53.9,54.3,54.6,55.1,55.4,55.5,55.0,55.3,55.7,55.9,56.3,55.7,56.0,56.4,56.5,56.6],
    [46.4,46.8,47.1,47.4,47.6,47.9,48.2,50.2,51.2,51.9,52.4,52.2,52.5,53.0,53.7,54.0,54.4,53.8,54.2,54.5,55.0,55.3,55.4,54.9,55.2,55.6,55.8,56.2,55.6,55.9,56.3,56.4,56.5],
    [46.4,46.8,47.1,47.4,47.6,47.9,48.1,50.2,51.2,51.9,52.4,52.2,52.4,52.9,53.7,54.0,54.4,53.8,54.2,54.5,55.0,55.3,55.4,54.8,55.1,55.6,55.8,56.2,55.5,55.8,56.3,56.4,56.5],
    [46.4,46.8,47.0,47.3,47.6,47.9,48.1,50.1,51.1,51.9,52.4,52.2,52.4,52.9,53.7,54.0,54.4,53.7,54.1,54.4,54.9,55.2,55.3,54.7,55.0,55.5,55.7,56.1,55.4,55.7,56.2,56.3,56.4],
    [46.4,46.8,47.0,47.3,47.5,47.8,48.0,50.1,51.1,51.9,52.4,52.1,52.3,52.8,53.6,53.9,54.3,53.7,54.1,54.4,54.9,55.2,55.3,54.7,55.0,55.5,55.7,56.1,55.4,55.7,56.2,56.3,56.4],
    [46.4,46.8,47.0,47.3,47.5,47.8,48.0,50.1,51.1,51.9,52.4,52.1,52.3,52.8,53.6,53.9,54.3,53.6,54.0,54.3,54.8,55.1,55.2,54.6,54.9,55.4,55.6,56.0,55.3,55.6,56.1,56.2,56.3],
    [46.4,46.8,47.0,47.3,47.5,47.8,48.0,50.1,51.1,51.9,52.4,52.1,52.3,52.8,53.6,53.9,54.3,53.5,53.9,54.2,54.7,55.0,55.1,54.5,54.8,55.3,55.5,55.9,55.2,55.5,56.0,56.1,56.2],
    [46.4,46.8,47.0,47.2,47.4,47.7,47.9,50.0,51.1,51.8,52.3,52.0,52.2,52.7,53.5,53.8,54.2,53.5,53.9,54.2,54.7,55.0,55.1,54.5,54.8,55.3,55.5,55.9,55.2,55.5,56.0,56.1,56.2],
    [46.4,46.8,47.0,47.2,47.4,47.7,47.9,50.0,51.1,51.8,52.3,52.0,52.2,52.7,53.5,53.8,54.2,53.4,53.8,54.1,54.6,54.9,55.0,54.4,54.7,55.2,55.4,55.8,55.1,55.4,55.9,56.0,56.1],
    [46.3,46.7,46.9,47.2,47.4,47.6,47.8,50.0,51.0,51.8,52.3,51.9,52.1,52.6,53.4,53.7,54.1,53.4,53.8,54.1,54.6,54.9,55.0,54.3,54.6,55.1,55.4,55.8,55.0,55.3,55.8,56.0,56.1],
    [46.3,46.7,46.9,47.2,47.4,47.6,47.8,50.0,51.0,51.8,52.3,51.9,52.1,52.6,53.4,53.7,54.1,53.3,53.7,54.0,54.5,54.8,54.9,54.2,54.5,55.0,55.3,55.7,54.9,55.2,55.7,55.9,56.0],
    [46.3,46.7,46.9,47.1,47.3,47.5,47.7,49.9,51.0,51.7,52.2,51.8,52.0,52.5,53.3,53.6,54.0,53.3,53.7,54.0,54.5,54.8,54.9,54.2,54.5,55.0,55.3,55.7,54.9,55.2,55.7,55.9,56.0],
    [46.3,46.7,46.9,47.1,47.3,47.5,47.7,49.9,51.0,51.7,52.2,51.8,52.0,52.5,53.3,53.6,54.0,53.2,53.6,53.9,54.4,54.7,54.8,54.1,54.4,54.9,55.2,55.6,54.8,55.1,55.6,55.8,55.9],
]

series = c_temps + b_amarelo + b_verde + b_ciano + b_azul + b_roxo + b_rosa
nomes = [f'C_{i}' for i in range(len(c_temps))]
nomes += [f'B_{i}' for i in range(len(series) - len(c_temps))]

cores = sns.color_palette('hls', len(series))

fig = plt.figure(figsize=(12.57, 29.77), dpi=100)
ax = fig.add_axes([86/1257, 1 - 800/2977, 1085/1257, 770/2977])

for i, temps in enumerate(series):
    ax.plot(passos, temps, color=cores[i], label=nomes[i])

ax.set_ylim(45.05, 100)
ax.minorticks_on()
ax.grid(which='major', color='#b0b0b0', linestyle='-', linewidth=0.8)
ax.grid(which='minor', color='#c8c8c8', linestyle=':', linewidth=0.8)
ax.set_title(titulo)
ax.legend(loc='upper right', labelspacing=0.525)

fig.savefig('out.png', dpi=100)
